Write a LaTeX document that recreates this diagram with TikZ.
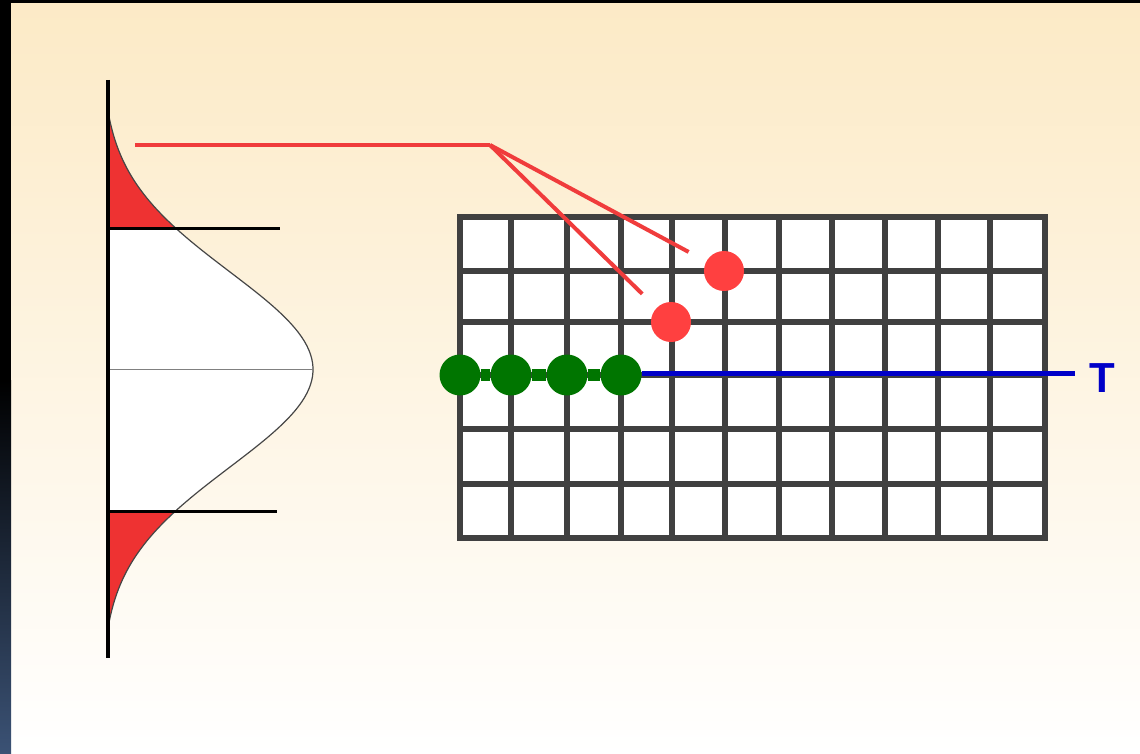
\documentclass[tikz,border=0pt]{standalone}
\usepackage{fontspec}
\setmainfont{Liberation Sans}
\usetikzlibrary{calc}

\definecolor{bgtop}{RGB}{252,234,198}
\definecolor{bandblue}{RGB}{59,82,117}
\definecolor{tailred}{RGB}{238,50,50}
\definecolor{dotred}{RGB}{255,64,64}
\definecolor{linered}{RGB}{240,60,60}
\definecolor{dotgreen}{RGB}{0,117,0}
\definecolor{lineblue}{RGB}{0,0,200}
\definecolor{gridgray}{RGB}{64,64,64}
\definecolor{curvegray}{RGB}{70,70,70}

\begin{document}
\begin{tikzpicture}[x=1pt,y=-1pt,
  reddot/.style={circle,fill=dotred,inner sep=0pt,minimum size=40pt},
  greendot/.style={circle,fill=dotgreen,inner sep=0pt,minimum size=41pt},
  redline/.style={linered,line width=4pt},
  cutline/.style={black,line width=3pt},
  gridline/.style={gridgray,line width=6.5pt,line cap=rect}]

\useasboundingbox (0,0) rectangle (1140,754);
\shade [top color=bgtop,bottom color=white] (0,0) rectangle (1140,754);
\fill [black] (0,0) rectangle (1140,3);
\fill [black] (0,0) rectangle (11,380);
\shade [top color=black,bottom color=bandblue] (0,380) rectangle (11,754);

% normal curve with both tails
\fill [tailred] (108,{369.5-97.6*2.65}) -- plot[domain=-2.65:-1.45,samples=30] ({108+211.3*(exp(-0.5*\x*\x)-0.02986)},{369.5+97.6*\x}) -- (108,228) -- cycle;
\fill [white] (108,228) -- plot[domain=-1.45:1.45,samples=60] ({108+211.3*(exp(-0.5*\x*\x)-0.02986)},{369.5+97.6*\x}) -- (108,511) -- cycle;
\fill [tailred] (108,511) -- plot[domain=1.45:2.65,samples=30] ({108+211.3*(exp(-0.5*\x*\x)-0.02986)},{369.5+97.6*\x}) -- (108,{369.5+97.6*2.65}) -- cycle;
\draw [curvegray,line width=1.2pt] plot[domain=-2.65:2.65,samples=120] ({108+211.3*(exp(-0.5*\x*\x)-0.02986)},{369.5+97.6*\x});
\draw [gray,line width=1.3pt] (108,369.5) -- (313,369.5);
\draw [cutline] (108,228) -- (280,228);
\draw [cutline] (108,511) -- (277,511);
\draw [black,line width=3.5pt] (108,80) -- (108,658);

% grid
\fill [white] (460,217) rectangle (1045,538);
\foreach \gx in {460,511,567,621,672,725,779,832,885,938,990,1045}
  \draw [gridline] (\gx,217) -- (\gx,538);
\foreach \gy in {217,271,322,375,429,484,538}
  \draw [gridline] (460,\gy) -- (1045,\gy);

\node [reddot] (r1) at (724,271) {};
\node [reddot] (r2) at (671,322) {};
\coordinate (lstart) at (135,145);
\coordinate (knee) at (490,145);
\draw [redline] (lstart) -- (knee);
\draw [redline,shorten >=20pt] (knee) -- (r1);
\draw [redline,shorten >=20pt] (knee) -- (r2);

\foreach \gx [count=\k] in {460,511,567,621}
  \node [greendot] (g\k) at (\gx,375) {};
\foreach \a/\b in {g1/g2,g2/g3,g3/g4}
  \draw [dotgreen,line width=12pt] (\a) -- (\b);

\coordinate (tend) at (1075,373);
\draw [lineblue,line width=5pt] (g4.east |- tend) -- (tend);
\node [text=lineblue,font=\bfseries\fontsize{42}{42}\selectfont,anchor=west] (tlabel) at (1086,378) {T};

\end{tikzpicture}
\end{document}
